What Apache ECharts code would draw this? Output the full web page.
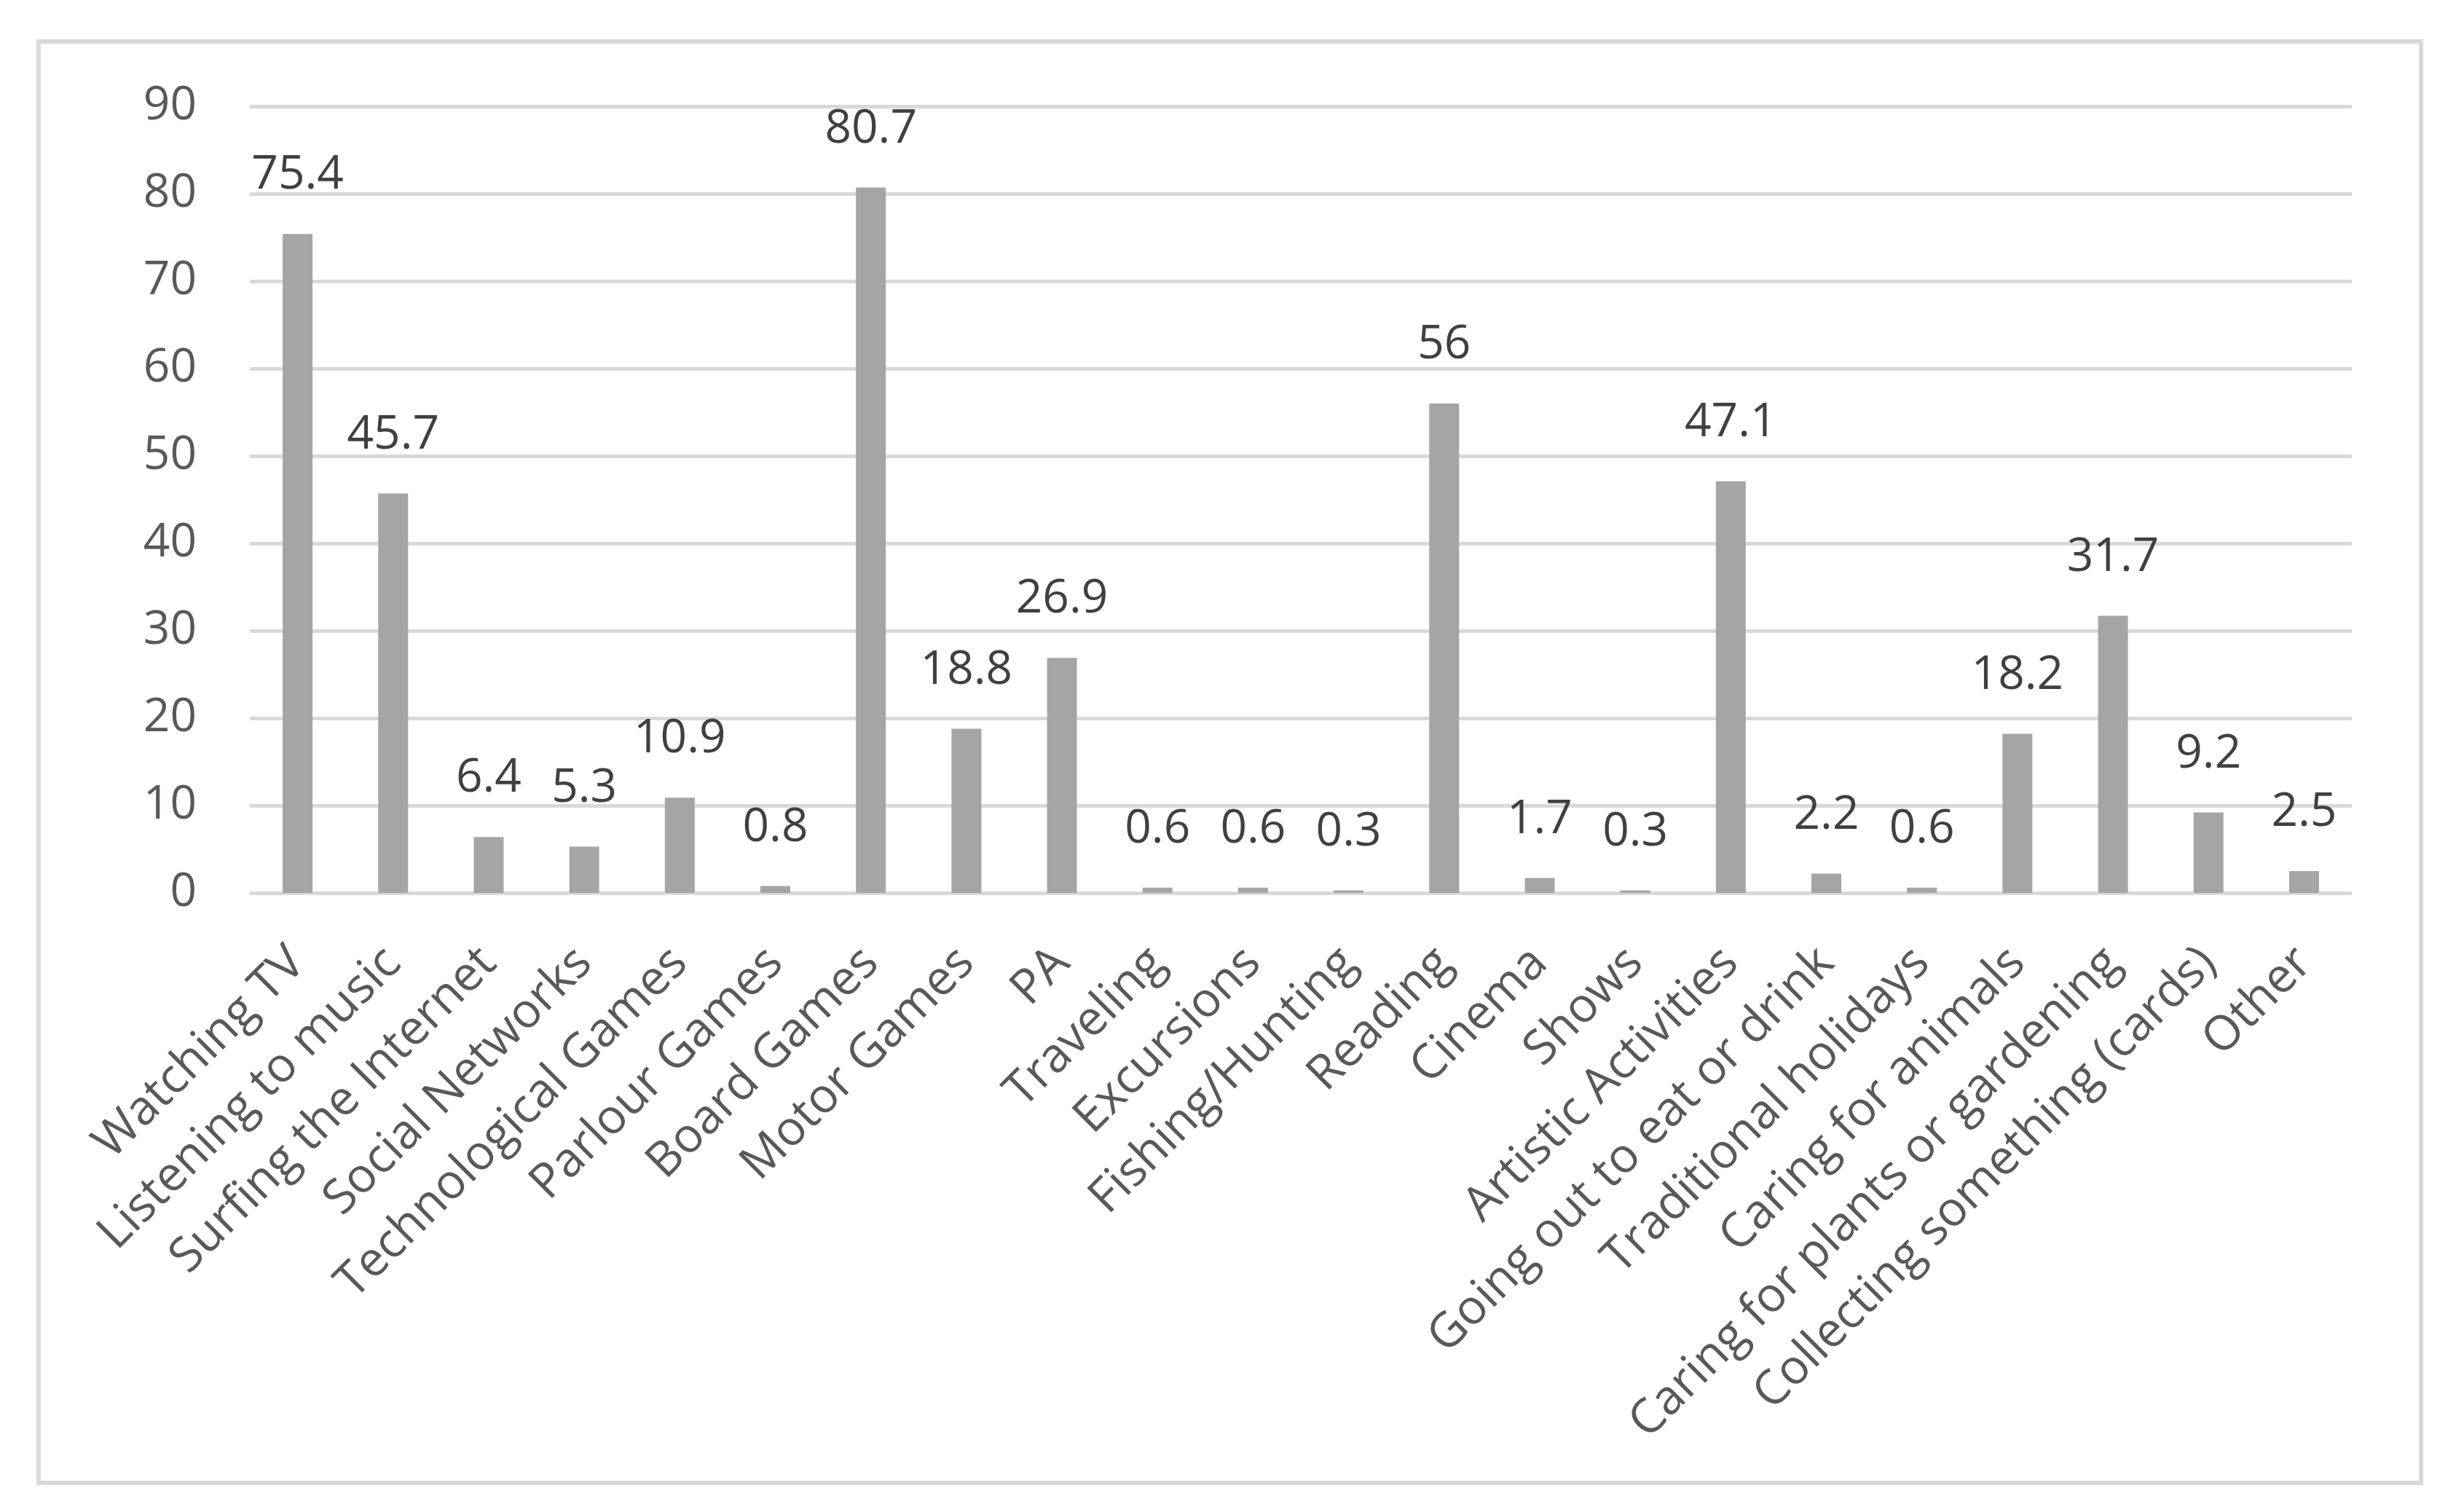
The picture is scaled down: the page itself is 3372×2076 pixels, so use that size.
<!DOCTYPE html>
<html>
<head>
<meta charset="utf-8">
<script src="https://cdn.jsdelivr.net/npm/echarts@6/dist/echarts.min.js"></script>
<style>
html,body{margin:0;padding:0;background:#fff;}
#chart{width:3372px;height:2076px;}
</style>
</head>
<body>
<div id="chart"></div>
<script>
const categories = ["Watching TV","Listening to music","Surfing the Internet","Social Networks","Technological Games","Parlour Games","Board Games","Motor Games","PA","Traveling","Excursions","Fishing/Hunting","Reading","Cinema","Shows","Artistic Activities","Going out to eat or drink","Traditional holidays","Caring for animals","Caring for plants or gardening","Collecting something (cards)","Other"];
const values = [75.4,45.7,6.4,5.3,10.9,0.8,80.7,18.8,26.9,0.6,0.6,0.3,56,1.7,0.3,47.1,2.2,0.6,18.2,31.7,9.2,2.5];
const yTicks = {min:0, max:90, interval:10};

const font = '"Open Sans", "Noto Sans", sans-serif';
const chart = echarts.init(document.getElementById('chart'), null, {renderer:'canvas'});
chart.setOption({
  backgroundColor:'#ffffff',
  animation:false,
  graphic:[{
    type:'rect', left:50, top:54,
    shape:{width:3271, height:1979},
    style:{fill:'none', stroke:'#d9d9d9', lineWidth:6}
  }],
  grid:{left:343, right:143, top:146, bottom:850, containLabel:false},
  xAxis:{
    type:'category', data:categories,
    axisLine:{show:false}, axisTick:{show:false},
    axisLabel:{rotate:45, interval:0, margin:86, color:'#595959', fontSize:66, fontFamily:font}
  },
  yAxis:{
    type:'value', min:yTicks.min, max:yTicks.max, interval:yTicks.interval,
    axisLine:{show:false}, axisTick:{show:false},
    splitLine:{lineStyle:{color:'#d9d9d9', width:5}},
    axisLabel:{margin:73, color:'#595959', fontSize:64, fontFamily:font}
  },
  series:[{
    type:'bar', data:values, barWidth:41,
    itemStyle:{color:'#a5a5a5'},
    label:{show:true, position:'top', distance:48, color:'#404040', fontSize:64, fontFamily:font}
  }]
});
</script>
</body>
</html>
